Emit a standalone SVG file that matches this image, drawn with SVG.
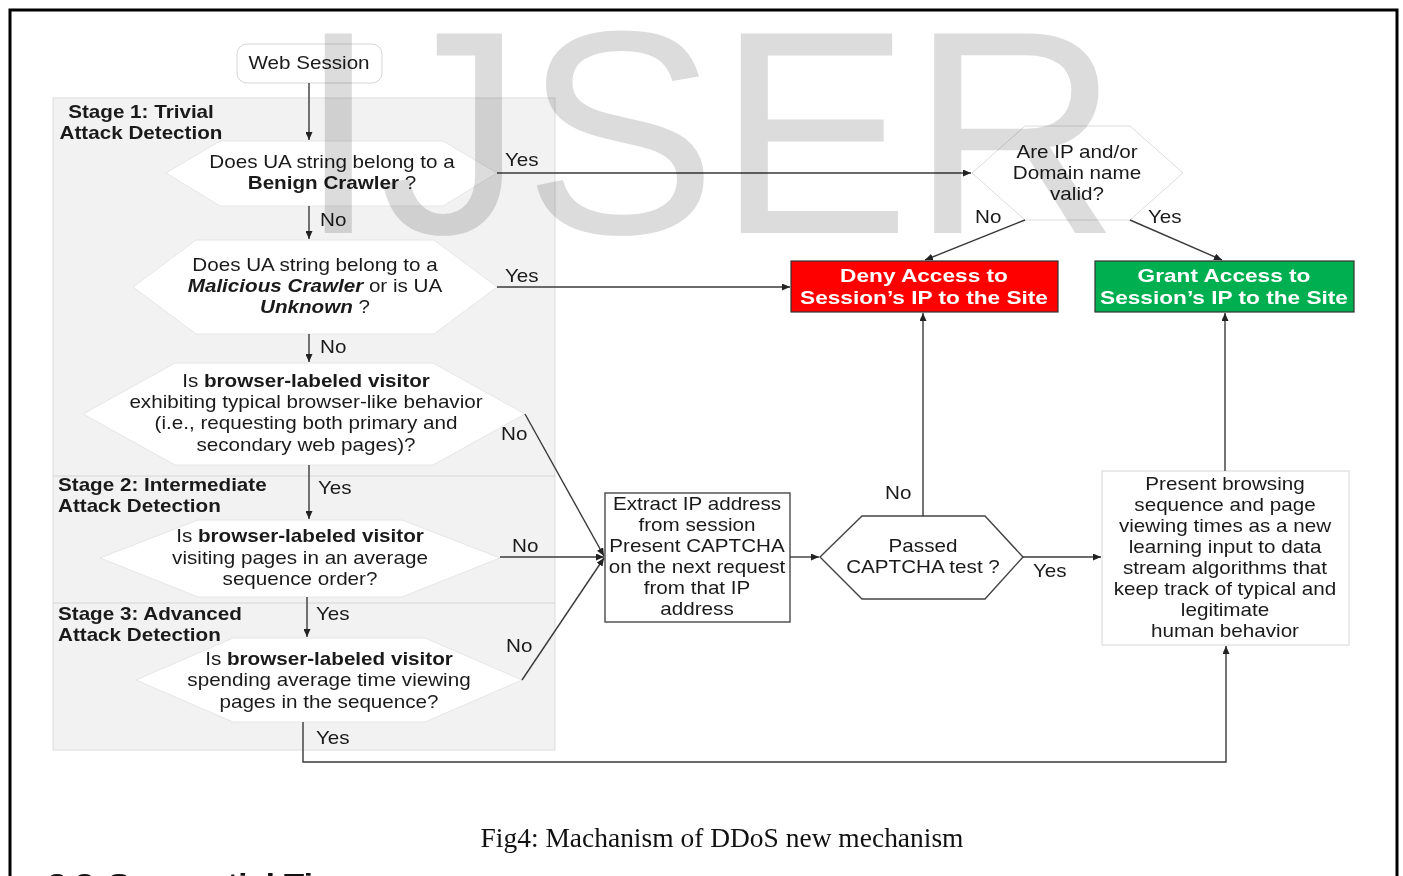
<svg xmlns="http://www.w3.org/2000/svg" width="1403" height="876" viewBox="0 0 1403 876">
<style>
text{font-family:"Liberation Sans",Arial,sans-serif;font-size:17.5px;fill:#1a1a1a}
.c{text-anchor:middle}
.b{font-weight:bold}
.bi{font-weight:bold;font-style:italic}
.w{fill:#ffffff;font-weight:bold;font-size:19.2px}
.hex{fill:#ffffff;stroke:#e6e6e6;stroke-width:1}
.ln{fill:none;stroke:#3a3a3a;stroke-width:1.4}
.cap{font-family:"Liberation Serif","Times New Roman",serif;font-size:27px;fill:#111}
</style>
<defs>
<marker id="ah" markerWidth="8" markerHeight="7" refX="8" refY="3.5" orient="auto" markerUnits="userSpaceOnUse">
<path d="M0,0 L8,3.5 L0,7 z" fill="#222"/>
</marker>
</defs>
<rect x="0" y="0" width="1403" height="876" fill="#ffffff"/>
<rect x="10" y="10" width="1387" height="900" fill="none" stroke="#000" stroke-width="3"/>

<g id="stages">
<rect x="53" y="98" width="502" height="652" fill="#f2f2f2" stroke="#dcdcdc" stroke-width="1"/>
<line x1="53" y1="476" x2="555" y2="476" stroke="#d6d6d6" stroke-width="1.2"/>
<line x1="53" y1="603" x2="555" y2="603" stroke="#d6d6d6" stroke-width="1.2"/>
<g transform="translate(141 0) scale(1.18 1)">
<text class="c b" x="0" y="118">Stage 1: Trivial</text>
<text class="c b" x="0" y="139">Attack Detection</text>
</g>
<g transform="translate(58 0) scale(1.18 1)">
<text class="b" x="0" y="491">Stage 2: Intermediate</text>
<text class="b" x="0" y="512">Attack Detection</text>
<text class="b" x="0" y="620">Stage 3: Advanced</text>
<text class="b" x="0" y="641">Attack Detection</text>
</g>
</g>

<g id="web-session">
<rect x="237" y="44" width="145" height="39" rx="10" fill="#fff" stroke="#d6d6d6"/>
<g transform="translate(309 0) scale(1.18 1)"><text class="c" x="0" y="69">Web Session</text></g>
</g>

<g id="q-benign">
<polygon class="hex" points="166,173 220,141 443,141 497,173 443,206 220,206"/>
<g transform="translate(332 0) scale(1.18 1)">
<text class="c" x="0" y="168">Does UA string belong to a</text>
<text class="c" x="0" y="189"><tspan class="b">Benign Crawler</tspan> ?</text>
</g>
</g>

<g id="q-malicious">
<polygon class="hex" points="133,287 196,240 434,240 497,287 434,334 196,334"/>
<g transform="translate(315 0) scale(1.18 1)">
<text class="c" x="0" y="271">Does UA string belong to a</text>
<text class="c" x="0" y="292"><tspan class="bi">Malicious Crawler</tspan> or is UA</text>
<text class="c" x="0" y="313"><tspan class="bi">Unknown</tspan> ?</text>
</g>
</g>

<g id="q-browser">
<polygon class="hex" points="83,414 175,363 433,363 525,414 433,465 175,465"/>
<g transform="translate(306 0) scale(1.18 1)">
<text class="c" x="0" y="387">Is <tspan class="b">browser-labeled visitor</tspan></text>
<text class="c" x="0" y="408">exhibiting typical browser-like behavior</text>
<text class="c" x="0" y="429">(i.e., requesting both primary and</text>
<text class="c" x="0" y="451">secondary web pages)?</text>
</g>
</g>

<g id="q-sequence">
<polygon class="hex" points="100,558 198,520 402,520 500,558 402,597 198,597"/>
<g transform="translate(300 0) scale(1.18 1)">
<text class="c" x="0" y="542">Is <tspan class="b">browser-labeled visitor</tspan></text>
<text class="c" x="0" y="564">visiting pages in an average</text>
<text class="c" x="0" y="585">sequence order?</text>
</g>
</g>

<g id="q-time">
<polygon class="hex" points="136,680 233,638 425,638 522,680 425,722 233,722"/>
<g transform="translate(329 0) scale(1.18 1)">
<text class="c" x="0" y="665">Is <tspan class="b">browser-labeled visitor</tspan></text>
<text class="c" x="0" y="686">spending average time viewing</text>
<text class="c" x="0" y="708">pages in the sequence?</text>
</g>
</g>

<g id="extract-ip">
<rect x="605" y="493" width="185" height="129" fill="#fff" stroke="#555" stroke-width="1.5"/>
<g transform="translate(697 0) scale(1.18 1)">
<text class="c" x="0" y="510">Extract IP address</text>
<text class="c" x="0" y="531">from session</text>
<text class="c" x="0" y="552">Present CAPTCHA</text>
<text class="c" x="0" y="573">on the next request</text>
<text class="c" x="0" y="594">from that IP</text>
<text class="c" x="0" y="615">address</text>
</g>
</g>

<g id="q-captcha">
<polygon points="820,557 862,516 985,516 1023,557 985,599 862,599" fill="#fff" stroke="#444" stroke-width="1.4"/>
<g transform="translate(923 0) scale(1.18 1)">
<text class="c" x="0" y="552">Passed</text>
<text class="c" x="0" y="573">CAPTCHA test ?</text>
</g>
</g>

<g id="present-learning">
<rect x="1102" y="471" width="247" height="174" fill="#fff" stroke="#d6d6d6"/>
<g transform="translate(1225 0) scale(1.18 1)">
<text class="c" x="0" y="490">Present browsing</text>
<text class="c" x="0" y="511">sequence and page</text>
<text class="c" x="0" y="532">viewing times as a new</text>
<text class="c" x="0" y="553">learning input to data</text>
<text class="c" x="0" y="574">stream algorithms that</text>
<text class="c" x="0" y="595">keep track of typical and</text>
<text class="c" x="0" y="616">legitimate</text>
<text class="c" x="0" y="637">human behavior</text>
</g>
</g>

<g id="deny">
<rect x="791" y="261" width="267" height="51" fill="#ff0000" stroke="#333" stroke-width="1.2"/>
<g transform="translate(924 0) scale(1.18 1)">
<text class="c w" x="0" y="282">Deny Access to</text>
<text class="c w" x="0" y="304">Session’s IP to the Site</text>
</g>
</g>

<g id="grant">
<rect x="1095" y="261" width="259" height="51" fill="#00b050" stroke="#333" stroke-width="1.2"/>
<g transform="translate(1224 0) scale(1.18 1)">
<text class="c w" x="0" y="282">Grant Access to</text>
<text class="c w" x="0" y="304">Session’s IP to the Site</text>
</g>
</g>

<g id="q-ip-valid">
<polygon points="972,173 1025,126 1130,126 1183,173 1130,220 1025,220" fill="#fff" stroke="#dcdcdc" stroke-width="1"/>
<g transform="translate(1077 0) scale(1.18 1)">
<text class="c" x="0" y="158">Are IP and/or</text>
<text class="c" x="0" y="179">Domain name</text>
<text class="c" x="0" y="200">valid?</text>
</g>
</g>

<g id="connectors">
<line class="ln" x1="309" y1="83" x2="309" y2="140" marker-end="url(#ah)"/>
<line class="ln" x1="309" y1="206" x2="309" y2="239" marker-end="url(#ah)"/>
<line class="ln" x1="309" y1="334" x2="309" y2="362" marker-end="url(#ah)"/>
<line class="ln" x1="309" y1="465" x2="309" y2="519" marker-end="url(#ah)"/>
<line class="ln" x1="307" y1="597" x2="307" y2="637" marker-end="url(#ah)"/>
<line class="ln" x1="497" y1="173" x2="971" y2="173" marker-end="url(#ah)"/>
<line class="ln" x1="497" y1="287" x2="790" y2="287" marker-end="url(#ah)"/>
<line class="ln" x1="525" y1="414" x2="604" y2="556" marker-end="url(#ah)"/>
<line class="ln" x1="500" y1="557" x2="604" y2="557" marker-end="url(#ah)"/>
<line class="ln" x1="522" y1="680" x2="604" y2="558" marker-end="url(#ah)"/>
<line class="ln" x1="790" y1="557" x2="819" y2="557" marker-end="url(#ah)"/>
<line class="ln" x1="923" y1="516" x2="923" y2="313" marker-end="url(#ah)"/>
<line class="ln" x1="1023" y1="557" x2="1101" y2="557" marker-end="url(#ah)"/>
<line class="ln" x1="1225" y1="471" x2="1225" y2="313" marker-end="url(#ah)"/>
<line class="ln" x1="1025" y1="220" x2="925" y2="260" marker-end="url(#ah)"/>
<line class="ln" x1="1130" y1="220" x2="1222" y2="260" marker-end="url(#ah)"/>
<path class="ln" d="M303,722 V762 H1226 V646" marker-end="url(#ah)"/>
<g transform="scale(1.18 1)">
<text x="427.97" y="166">Yes</text>
<text x="271.19" y="226">No</text>
<text x="427.97" y="282">Yes</text>
<text x="271.19" y="353">No</text>
<text x="424.58" y="440">No</text>
<text x="269.49" y="494">Yes</text>
<text x="433.90" y="552">No</text>
<text x="267.80" y="620">Yes</text>
<text x="428.81" y="652">No</text>
<text x="267.80" y="744">Yes</text>
<text x="750.00" y="499">No</text>
<text x="875.42" y="577">Yes</text>
<text x="826.27" y="223">No</text>
<text x="972.88" y="223">Yes</text>
</g>
</g>

<text x="298" y="233" style="font-family:'Liberation Sans',Arial,sans-serif;font-size:290px;fill:#dcdcdc;mix-blend-mode:multiply">IJSER</text>

<text class="cap" x="722" y="847" text-anchor="middle" textLength="483" lengthAdjust="spacingAndGlyphs">Fig4: Machanism of DDoS new mechanism</text>
<g transform="translate(48 0) scale(1.18 1)">
<text x="0" y="893" style="font-weight:bold;font-size:28px;fill:#111">3.3</text>
<text x="50.8" y="893" style="font-weight:bold;font-size:28px;fill:#111">Sequential Ti</text>
</g>
</svg>
